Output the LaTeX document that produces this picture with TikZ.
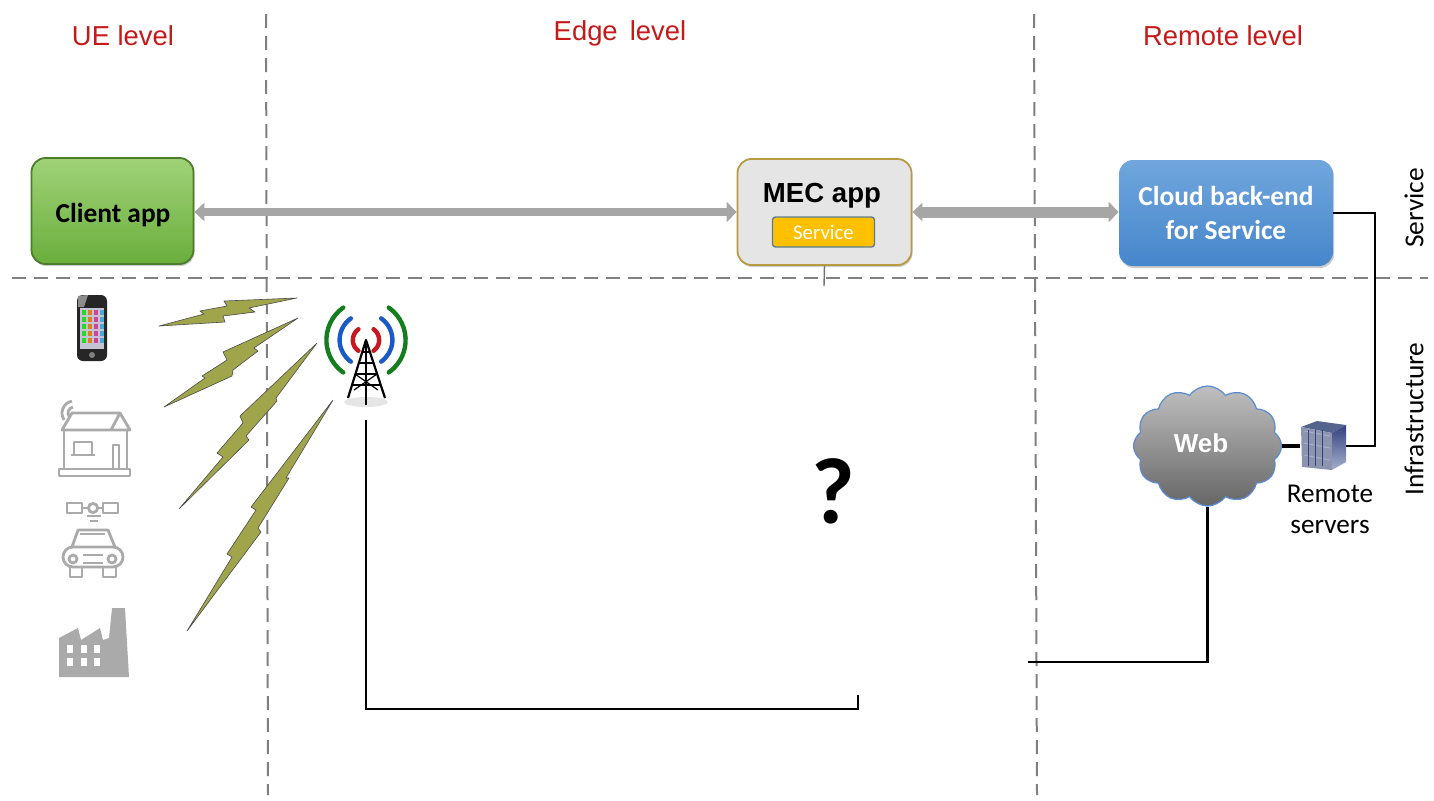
\documentclass[tikz,border=0pt]{standalone}
\usepackage{fontspec}
\usepackage{xcolor}
\setmainfont{Carlito}
\newfontfamily\arialfont{Liberation Sans}
\usetikzlibrary{arrows.meta}
\usetikzlibrary{shadows}
\usetikzlibrary{shapes.symbols}
\definecolor{lineGray}{RGB}{128,128,128}
\definecolor{arrowGray}{RGB}{166,166,166}
\definecolor{iconGray}{RGB}{170,170,170}
\definecolor{levelRed}{RGB}{200,25,25}
\definecolor{boltGreen}{RGB}{160,165,75}
\definecolor{serviceGold}{RGB}{255,192,0}
\definecolor{antennaGreen}{RGB}{20,125,30}
\definecolor{antennaBlue}{RGB}{25,90,200}
\definecolor{antennaRed}{RGB}{200,25,35}
\definecolor{clientTop}{RGB}{160,210,120}
\definecolor{clientBottom}{RGB}{106,174,60}
\definecolor{clientEdge}{RGB}{75,125,45}
\definecolor{cloudTop}{RGB}{112,166,220}
\definecolor{cloudBottom}{RGB}{70,134,204}
\definecolor{mecEdge}{RGB}{185,155,65}
\definecolor{serviceEdge}{RGB}{90,125,150}
\definecolor{webEdge}{RGB}{90,140,210}
\definecolor{rackFront}{RGB}{140,148,175}
\definecolor{rackTop}{RGB}{85,100,140}
\definecolor{rackDark}{RGB}{50,65,125}
\definecolor{rackLight}{RGB}{165,175,205}
\tikzset{
  level/.style={text=levelRed, font=\arialfont\fontsize{13.7}{16}\selectfont},
  sideLabel/.style={rotate=90, font=\fontsize{13.7}{15}\selectfont},
  border/.style={draw=lineGray, line width=1pt, dash pattern=on 7pt off 4pt},
  appBox/.style={rounded corners=7pt, minimum height=53pt, inner sep=0pt, align=center,
    drop shadow={shadow xshift=0.5pt, shadow yshift=-1pt, opacity=0.4}},
  wide/.style={draw=arrowGray, {Triangle[length=5pt,width=9pt]}-{Triangle[length=5pt,width=10pt]}},
  wire/.style={draw=black, line width=1.1pt},
  bolt/.style={fill=boltGreen, draw=black!70, line width=0.3pt, line join=round},
  iconLine/.style={draw=iconGray, line width=1.4pt, line join=round},
  wave/.style={line width=2.2pt, line cap=round}
}
\begin{document}
\begin{tikzpicture}[x=0.5pt, y=-0.5pt]
  \useasboundingbox [fill=white] (0,0) rectangle (1434,800);

  \node [level] (uelevel) at (123,36) {UE level};
  \node [level] (edgelevel) at (620,33) {Edge\, level};
  \node [level] (remotelevel) at (1223,36) {Remote level};

  \draw [border] (266,14) -- (268,795);
  \draw [border] (1034,14) -- (1037,795);
  \draw [border] (12,278) -- (1428,278);

  \node [appBox, minimum width=81pt, top color=clientTop, bottom color=clientBottom, draw=clientEdge, line width=0.9pt] (clientapp) at (112.5,211) {};
  \node [font=\bfseries\fontsize{13.7}{16}\selectfont] (clienttext) at (113,215) {Client app};
  \node [appBox, minimum width=87pt, fill=black!10, draw=mecEdge, line width=0.9pt] (mecapp) at (824.5,212) {};
  \node [font=\arialfont\bfseries\fontsize{13.8}{15}\selectfont] (mectext) at (822,196) {MEC app};
  \node [rounded corners=1.5pt, minimum width=51pt, minimum height=15pt, inner sep=0pt, fill=serviceGold, draw=serviceEdge, line width=0.7pt,
    text=white, font=\fontsize{10.4}{12}\selectfont] (service) at (823.5,232) {Service};
  \node [appBox, minimum width=107pt, top color=cloudTop, bottom color=cloudBottom,
    text=white, font=\bfseries\fontsize{13.7}{17}\selectfont] (backend) at (1226,213) {Cloud back-end\\for Service};

  \draw [wide, line width=4pt] (mecapp.west -| clientapp.east) -- (mecapp.west);
  \draw [wide, line width=5.5pt] (mecapp.east) -- (mecapp.east -| backend.west);

  \node [sideLabel] (servicelabel) at (1414,208) {Service};
  \node [sideLabel] (infralabel) at (1414,419) {Infrastructure};

  \coordinate (tick) at (824,286);
  \draw [black!55, line width=0.7pt] (mecapp.south) -- (tick);

  \node [cloud, cloud puffs=12, cloud puff arc=110, aspect=1.25, minimum width=74pt, minimum height=60pt, inner sep=0pt,
    top color=black!25, bottom color=black!60, draw=webEdge, line width=0.6pt] (web) at (1207.5,446) {};
  \node [text=white, font=\arialfont\bfseries\fontsize{13}{15}\selectfont] (webtext) at (1201,443) {Web};
  \node [minimum width=23pt, minimum height=24pt, inner sep=0pt] (servers) at (1323,446) {};
  \node [align=center, font=\fontsize{13.6}{15.5}\selectfont] (serverstext) at (1330,509) {Remote\\servers};

  \fill [rackTop] (1301,427) -- (1317,421) -- (1346,425) -- (1332,433) -- cycle;
  \fill [rackFront] (1301,427) -- (1332,433) -- (1332,470) -- (1302,467) -- cycle;
  \shade [top color=rackDark, bottom color=rackLight] (1332,433) -- (1346,425) -- (1346,462) -- (1332,470) -- cycle;
  \foreach \y in {0,12,24}
    \draw [rackLight, line width=0.5pt] (1304,431+\y) -- (1330,436+\y);
  \foreach \x in {1308,1315,1322}
    \draw [rackDark, line width=0.3pt] (\x,430) -- (\x,466);

  \draw [wire, line width=1.6pt] (web.east) -- (servers.west);
  \coordinate (rackturn) at (1375,446);
  \draw [wire] (backend.east) -| (rackturn) -- (servers.east);
  \coordinate (webend) at (1028,662);
  \draw [wire] (web.south) |- (webend);

  \coordinate (towerfoot) at (366,420);
  \coordinate (edgecorner) at (858,709);
  \coordinate (edgeend) at (858,695);
  \draw [wire] (towerfoot) |- (edgecorner) -- (edgeend);

  \node [font=\bfseries\fontsize{47}{54}\selectfont] (unknown) at (833,491) {?};

  \draw [bolt] (159,326) -- (204,314) -- (200,311) -- (227,306) -- (224,301) -- (297,298) -- (249,308) -- (255,312) -- (223,316) -- (225,322) -- cycle;
  \draw [bolt] (164,407) -- (205,378) -- (202,376) -- (227,360) -- (223,352) -- (298,318) -- (254,348) -- (258,351) -- (233,370) -- (232,376) -- cycle;
  \draw [bolt] (179,509) -- (223,457) -- (217,453) -- (243,423) -- (240,416) -- (317,343) -- (276,398) -- (277,401) -- (246,436) -- (249,440) -- cycle;
  \draw [bolt] (187,631) -- (232,557) -- (227,554) -- (256,510) -- (251,507) -- (333,400) -- (286,478) -- (289,478) -- (258,528) -- (261,532) -- cycle;

  \fill [black!10] (366,402) ellipse (11pt and 2.5pt);
  \draw [black, line width=1.1pt, line join=round] (348,398) -- (366,340) -- (385,398);
  \draw [black, line width=1.4pt] (366,340) -- (366,405);
  \foreach \y/\w in {352/4,363/8,374/11,385/15}
    \draw [black, line width=0.8pt] (366-\w,\y) -- (366+\w,\y);
  \draw [black, line width=0.6pt] (355,374) -- (378,390) (377,374) -- (354,390);
  \foreach \r/\c in {6.6/antennaRed,13.2/antennaBlue,19.8/antennaGreen} {
    \draw [wave, \c] (366,340) ++(125:\r pt) arc [start angle=125, end angle=235, radius=\r pt];
    \draw [wave, \c] (366,340) ++(55:\r pt) arc [start angle=55, end angle=-55, radius=\r pt];
  }

  \fill [black!85, rounded corners=3pt] (77,295) rectangle (107,361);
  \fill [black!45] (78,296) -- (88,295) -- (84,307) -- (78,307) -- cycle;
  \fill [blue!15!gray!40] (80,308) rectangle (104,349);
  \foreach \x/\c in {82/green,88/orange,94/magenta,100/cyan} \foreach \y in {310,317,324,331,338}
    \fill [\c!70!gray] (\x,\y) rectangle (\x+4,\y+5);
  \fill [black!50] (92,355) circle (1.5pt);

  \draw [iconLine] (62,430) -- (72,413) -- (120,413) -- (130,430) -- cycle;
  \draw [iconLine] (120,413) -- (111,430);
  \draw [iconLine] (64,430) -- (64,469) (127,430) -- (127,469);
  \draw [iconLine] (59,469) rectangle (130,476);
  \draw [iconLine] (74,454) -- (74,442) -- (92,442) -- (92,454) (71,455) -- (95,455);
  \draw [iconLine] (113,469) -- (113,445) -- (119,445) -- (119,469);
  \draw [iconLine] (74,413) ++(100:6pt) arc [start angle=100, end angle=215, radius=6pt];
  \draw [iconLine] (74,413) ++(100:3pt) arc [start angle=100, end angle=215, radius=3pt];

  \draw [iconLine] (67,503) rectangle (82,513) (103,503) rectangle (118,513);
  \draw [iconLine] (82,508) -- (103,508);
  \draw [iconLine, fill=white] (93,508) circle (2.3pt);
  \draw [iconLine] (87,516) -- (101,516) (90,521) -- (98,521);
  \draw [iconLine] (72,547) -- (78,530) -- (108,530) -- (115,547);
  \draw [iconLine] (80,534) -- (105,534);
  \draw [iconLine, rounded corners=5pt] (63,547) rectangle (123,567);
  \draw [iconLine] (70,567) rectangle (82,577) (103,567) rectangle (116,577);
  \draw [iconLine] (73,559) circle (2pt) (112,559) circle (2pt);
  \draw [iconLine] (83,555) -- (103,555) (83,563) -- (103,563);

  \fill [iconGray] (59,677) -- (59,638) -- (78,628) -- (81,640) -- (100,628) -- (103,640) -- (109,638) -- (112,608) -- (125,608) -- (129,677) -- cycle;
  \foreach \x in {67,81,94} \foreach \y in {645,658}
    \fill [white] (\x,\y) rectangle (\x+6,\y+8);
\end{tikzpicture}
\end{document}
